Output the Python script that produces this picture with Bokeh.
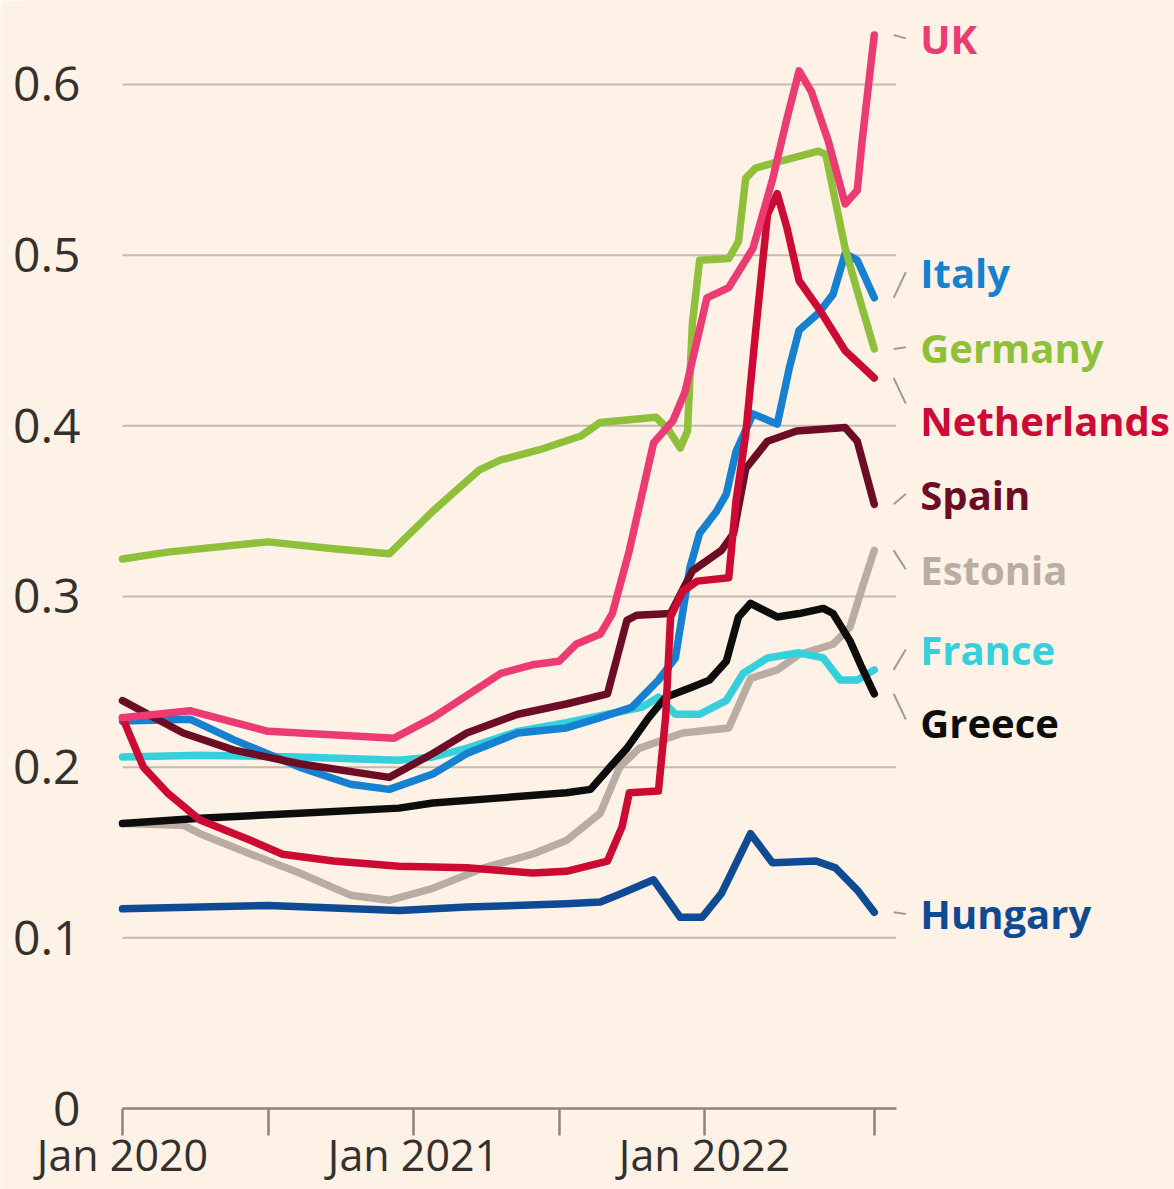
from bokeh.plotting import figure
from bokeh.models import Range1d, FixedTicker, NumeralTickFormatter, ColumnDataSource
from bokeh.embed import file_html
from bokeh.resources import INLINE
from bokeh.core.properties import value

# ---- data (x in months since Jan 2020) ----
countries = ["UK", "Italy", "Germany", "Netherlands", "Spain", "Estonia", "France", "Greece", "Hungary"]
colors = ["#ec3a73", "#1581d0", "#8ec03c", "#cc0a33", "#6c0c25", "#b9aca2", "#35d0dc", "#0d0d0d", "#0f4a94"]

uk_x = [0, 2.8, 6.0, 11.2, 12.8, 15.6, 16.9, 18.0, 18.7, 19.7, 20.2, 20.9, 21.9, 22.7, 23.2, 24.1, 25.0, 26.0, 26.8, 27.4, 27.9, 28.4, 29.1, 29.8, 30.3, 30.5, 31.0]
uk_y = [0.229, 0.233, 0.221, 0.217, 0.229, 0.255, 0.260, 0.262, 0.272, 0.278, 0.290, 0.327, 0.390, 0.403, 0.420, 0.475, 0.481, 0.504, 0.544, 0.580, 0.608, 0.596, 0.567, 0.530, 0.538, 0.567, 0.629]

italy_x = [0, 2.8, 4.6, 7.3, 9.4, 11.0, 12.8, 14.2, 16.3, 18.3, 19.7, 21.0, 22.1, 22.8, 23.4, 23.8, 24.5, 24.9, 25.3, 26.0, 27.0, 27.5, 27.9, 28.7, 29.3, 29.8, 30.3, 31.0]
italy_y = [0.227, 0.228, 0.216, 0.200, 0.190, 0.187, 0.196, 0.208, 0.220, 0.223, 0.229, 0.235, 0.251, 0.264, 0.317, 0.337, 0.350, 0.360, 0.385, 0.407, 0.401, 0.434, 0.456, 0.466, 0.477, 0.501, 0.497, 0.475]

germany_x = [0, 1.85, 6.0, 8.7, 11.0, 12.8, 14.7, 15.6, 17.2, 18.9, 19.7, 22.0, 22.5, 23.0, 23.3, 23.5, 23.8, 25.0, 25.4, 25.7, 26.1, 27.1, 28.7, 29.0, 29.8, 30.3, 31.0]
germany_y = [0.322, 0.326, 0.332, 0.328, 0.325, 0.350, 0.374, 0.380, 0.386, 0.394, 0.402, 0.405, 0.398, 0.387, 0.397, 0.460, 0.497, 0.498, 0.508, 0.545, 0.551, 0.555, 0.561, 0.559, 0.504, 0.479, 0.445]

netherlands_x = [0, 0.86, 1.85, 3.2, 5.3, 6.6, 8.7, 11.4, 14.2, 16.9, 18.3, 20.0, 20.6, 20.9, 22.1, 22.4, 22.6, 23.1, 23.7, 25.0, 25.3, 25.7, 26.1, 26.6, 27.0, 27.4, 27.9, 28.7, 29.8, 31.0]
netherlands_y = [0.229, 0.200, 0.185, 0.169, 0.157, 0.149, 0.145, 0.142, 0.141, 0.138, 0.139, 0.145, 0.165, 0.185, 0.186, 0.230, 0.288, 0.303, 0.309, 0.311, 0.356, 0.395, 0.454, 0.524, 0.536, 0.516, 0.485, 0.469, 0.444, 0.428]

spain_x = [0, 2.5, 4.6, 7.3, 11.0, 12.8, 14.2, 16.3, 18.3, 20.0, 20.8, 21.2, 22.6, 23.5, 24.7, 25.2, 25.7, 26.6, 27.8, 29.8, 30.3, 31.0]
spain_y = [0.239, 0.220, 0.210, 0.202, 0.194, 0.208, 0.220, 0.231, 0.237, 0.243, 0.286, 0.289, 0.290, 0.315, 0.327, 0.337, 0.375, 0.391, 0.397, 0.399, 0.391, 0.354]

estonia_x = [0, 2.5, 3.2, 5.3, 7.3, 9.4, 11.0, 12.8, 14.9, 16.9, 18.3, 19.7, 20.5, 21.3, 23.1, 25.0, 25.9, 27.0, 27.9, 29.3, 30.0, 30.5, 31.0]
estonia_y = [0.167, 0.166, 0.161, 0.149, 0.138, 0.125, 0.122, 0.129, 0.141, 0.149, 0.157, 0.173, 0.200, 0.211, 0.220, 0.223, 0.252, 0.257, 0.266, 0.272, 0.282, 0.305, 0.327]

france_x = [0, 3.2, 7.3, 11.4, 12.8, 14.2, 16.3, 18.3, 20.0, 21.4, 22.1, 22.8, 23.8, 24.9, 25.6, 26.6, 27.9, 28.9, 29.6, 30.3, 31.0]
france_y = [0.206, 0.207, 0.206, 0.204, 0.206, 0.211, 0.221, 0.226, 0.231, 0.235, 0.241, 0.231, 0.231, 0.239, 0.255, 0.264, 0.267, 0.264, 0.251, 0.251, 0.257]

greece_x = [0, 3.2, 7.3, 11.4, 12.8, 15.6, 18.3, 19.3, 20.1, 20.8, 21.7, 22.4, 23.5, 24.2, 24.9, 25.4, 25.9, 26.3, 27.0, 27.9, 28.9, 29.3, 30.0, 30.5, 31.0]
greece_y = [0.167, 0.170, 0.173, 0.176, 0.179, 0.182, 0.185, 0.187, 0.200, 0.211, 0.229, 0.241, 0.247, 0.251, 0.262, 0.288, 0.296, 0.293, 0.288, 0.290, 0.293, 0.290, 0.274, 0.258, 0.243]

hungary_x = [0, 6.0, 11.4, 14.2, 18.3, 19.7, 20.4, 21.9, 23.0, 23.9, 24.7, 25.9, 26.8, 28.6, 29.4, 30.3, 31.0]
hungary_y = [0.117, 0.119, 0.116, 0.118, 0.120, 0.121, 0.125, 0.134, 0.112, 0.112, 0.126, 0.161, 0.144, 0.145, 0.141, 0.128, 0.115]

label_y = [0.627, 0.490, 0.446, 0.403, 0.360, 0.316, 0.269, 0.226, 0.114]

y_ticks = [0, 0.1, 0.2, 0.3, 0.4, 0.5, 0.6]
x_ticks = [0, 6, 12, 18, 24, 31]
x_tick_labels = ["Jan 2020", "", "Jan 2021", "", "Jan 2022", ""]

series = {
    "UK": (uk_x, uk_y), "Italy": (italy_x, italy_y), "Germany": (germany_x, germany_y),
    "Netherlands": (netherlands_x, netherlands_y), "Spain": (spain_x, spain_y),
    "Estonia": (estonia_x, estonia_y), "France": (france_x, france_y),
    "Greece": (greece_x, greece_y), "Hungary": (hungary_x, hungary_y),
}
color_of = dict(zip(countries, colors))

BG = "#fef1e6"
TEXT = "#33302e"
W, H = 1174, 1189
PX_PER_MONTH = 24.25
PX_PER_UNIT = 1706.7
ZERO_X = 122   # pixel column of Jan 2020
ZERO_Y = 1108  # pixel row of the zero line

p = figure(width=W, height=H, output_backend="svg", toolbar_location=None,
           x_range=Range1d(-ZERO_X / PX_PER_MONTH, (W - ZERO_X) / PX_PER_MONTH),
           y_range=Range1d(-(H - ZERO_Y) / PX_PER_UNIT, ZERO_Y / PX_PER_UNIT),
           min_border=0)
p.background_fill_color = BG
p.border_fill_color = BG
p.outline_line_color = None
p.grid.visible = False

# gridlines stopping at the end of the data area
grid_end = 31.9
gy = [t for t in y_ticks if t > 0]
p.segment(x0=[0] * len(gy), x1=[grid_end] * len(gy), y0=gy, y1=gy,
          line_color="#c4bab1", line_width=2)

# x axis, drawn on the zero line
xa = p.xaxis[0]
xa.fixed_location = 0
xa.ticker = FixedTicker(ticks=x_ticks)
xa.major_label_overrides = dict(zip(x_ticks, x_tick_labels))
xa.bounds = (0, grid_end)
xa.axis_line_color = "#8d847c"
xa.axis_line_width = 2.5
xa.major_tick_line_color = "#8d847c"
xa.major_tick_line_width = 2.5
xa.major_tick_out = 27
xa.major_tick_in = 0
xa.minor_tick_line_color = None
xa.major_label_standoff = -11
xa.major_label_text_font = "Open Sans"
xa.major_label_text_font_size = "43px"
xa.major_label_text_color = TEXT

# y axis, drawn at Jan 2020
ya = p.yaxis[0]
ya.fixed_location = 0
ya.ticker = FixedTicker(ticks=y_ticks)
ya.bounds = (0, 0.6)
ya.formatter = NumeralTickFormatter(format="0.[0]")
ya.axis_line_color = None
ya.major_tick_line_color = None
ya.minor_tick_line_color = None
ya.major_tick_out = 0
ya.major_tick_in = 0
ya.major_label_standoff = 42
ya.major_label_text_font = "Open Sans"
ya.major_label_text_font_size = "48px"
ya.major_label_text_color = TEXT

draw_order = ["Estonia", "Hungary", "France", "Italy", "Greece", "Spain", "Netherlands", "Germany", "UK"]
for c in draw_order:
    xs, ys = series[c]
    p.line(xs, ys, line_color=color_of[c], line_width=7.5, line_join="round", line_cap="round")

# connectors and labels
ends = [series[c][1][-1] for c in countries]
conn_end = [e + max(-0.015, min(0.015, ly - e)) for e, ly in zip(ends, label_y)]
p.segment(x0=[31.8] * len(countries), x1=[32.3] * len(countries), y0=ends, y1=conn_end,
          line_color="#a39a92", line_width=2)

src = ColumnDataSource(dict(x=[32.9] * len(countries), y=label_y, text=countries, color=colors))
p.text(x="x", y="y", text="text", text_color="color", source=src,
       text_font=value("Open Sans"), text_font_style="bold", text_font_size="40px",
       text_baseline="middle", text_align="left")

open("out.html", "w").write(file_html(p, INLINE))
